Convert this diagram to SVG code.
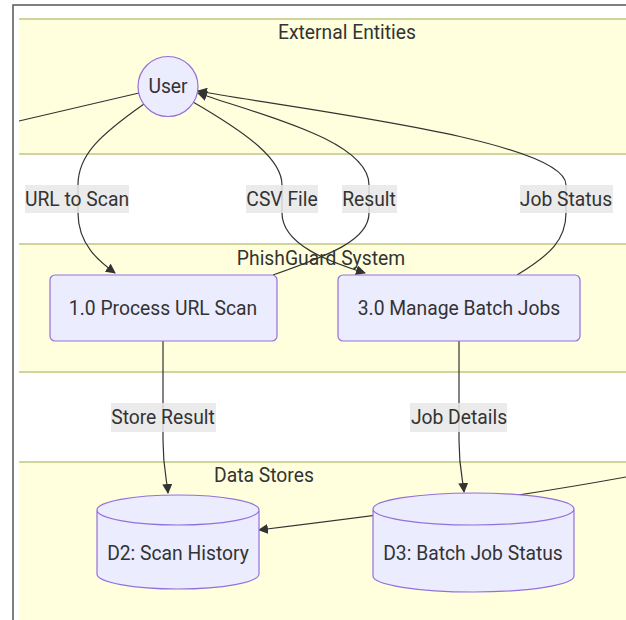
<svg xmlns="http://www.w3.org/2000/svg" width="626" height="620" viewBox="0 0 626 620">
<defs>
<style>
text{font-family:Roboto,"Liberation Sans",sans-serif;fill:#333;}
.t{font-size:19.3px;text-anchor:middle;}
.band{fill:#ffffde;stroke:none;}
.bline{stroke:#c2c680;stroke-width:1.5;fill:none;}
.node{fill:#ececff;stroke:#9370db;stroke-width:1.2;}
.edge{fill:none;stroke:#333;stroke-width:1.2;}
.lbl{fill:#e8e8e8;opacity:0.85;}
</style>
<marker id="arr" viewBox="0 0 10 10" refX="9" refY="5" markerWidth="10" markerHeight="10" markerUnits="userSpaceOnUse" orient="auto">
<path d="M0,0 L10,5 L0,10 z" fill="#333"/>
</marker>
</defs>
<rect width="626" height="620" fill="#fff"/>
<path d="M13,620 L13,5 L626,5" fill="none" stroke="#555" stroke-width="1.5"/>
<g id="bands">
<rect class="band" x="19" y="19" width="620" height="135"/>
<path class="bline" d="M19,19 H626 M19,154 H626"/>
<rect class="band" x="19" y="244" width="620" height="128"/>
<path class="bline" d="M19,244 H626 M19,372 H626"/>
<rect class="band" x="19" y="462" width="620" height="170"/>
<path class="bline" d="M19,462 H626"/>
<text class="t" x="347" y="39">External Entities</text>
<text class="t" x="321" y="265">PhishGuard System</text>
<text class="t" x="264" y="482">Data Stores</text>
</g>
<g id="connectors">
<path class="edge" d="M19,121 L139,93"/>
<path class="edge" d="M144,104 C100,135 78,155 78,185 L78,213 C78,245 100,262 115,273" marker-end="url(#arr)"/>
<path class="edge" d="M193,102 C250,135 282,160 282,185 L282,213 C282,245 330,262 365,273" marker-end="url(#arr)"/>
<path class="edge" d="M273,275 C330,255 369,240 369,213 L369,185 C369,140 260,115 198,93" marker-end="url(#arr)"/>
<path class="edge" d="M517,275 C550,255 566,240 566,213 L566,185 C566,140 300,110 198,91" marker-end="url(#arr)"/>
<path class="edge" d="M163,341 L163,440 C163,470 167,480 168,493" marker-end="url(#arr)"/>
<path class="edge" d="M459,341 L459,440 C459,470 463,480 464,492" marker-end="url(#arr)"/>
<path class="edge" d="M626,477 C500,500 380,515 259,530" marker-end="url(#arr)"/>
<rect class="lbl" x="25" y="185" width="104" height="28"/>
<text class="t" x="77" y="206">URL to Scan</text>
<rect class="lbl" x="246" y="185" width="72" height="28"/>
<text class="t" x="282" y="206">CSV File</text>
<rect class="lbl" x="342" y="185" width="55" height="28"/>
<text class="t" x="369" y="206">Result</text>
<rect class="lbl" x="520" y="185" width="93" height="28"/>
<text class="t" x="566" y="206">Job Status</text>
<rect class="lbl" x="111" y="403" width="105" height="29"/>
<text class="t" x="163" y="424">Store Result</text>
<rect class="lbl" x="410" y="403" width="97" height="29"/>
<text class="t" x="459" y="424">Job Details</text>
</g>
<g id="user">
<circle class="node" cx="168" cy="86.5" r="30"/>
<text class="t" x="168" y="93">User</text>
</g>
<g id="p1">
<rect class="node" x="50" y="275" width="227" height="66" rx="5"/>
<text class="t" x="163" y="315">1.0 Process URL Scan</text>
</g>
<g id="p3">
<rect class="node" x="338" y="275" width="242" height="66" rx="5"/>
<text class="t" x="459" y="315">3.0 Manage Batch Jobs</text>
</g>
<g id="d2">
<path class="node" d="M97,510 a81,15 0 0,0 162,0 a81,15 0 0,0 -162,0 l0,64 a81,15 0 0,0 162,0 l0,-64"/>
<text class="t" x="178" y="560">D2: Scan History</text>
</g>
<g id="d3">
<path class="node" d="M373,509 a100.5,16 0 0,0 201,0 a100.5,16 0 0,0 -201,0 l0,67 a100.5,16 0 0,0 201,0 l0,-67"/>
<text class="t" x="473" y="560">D3: Batch Job Status</text>
</g>
</svg>
